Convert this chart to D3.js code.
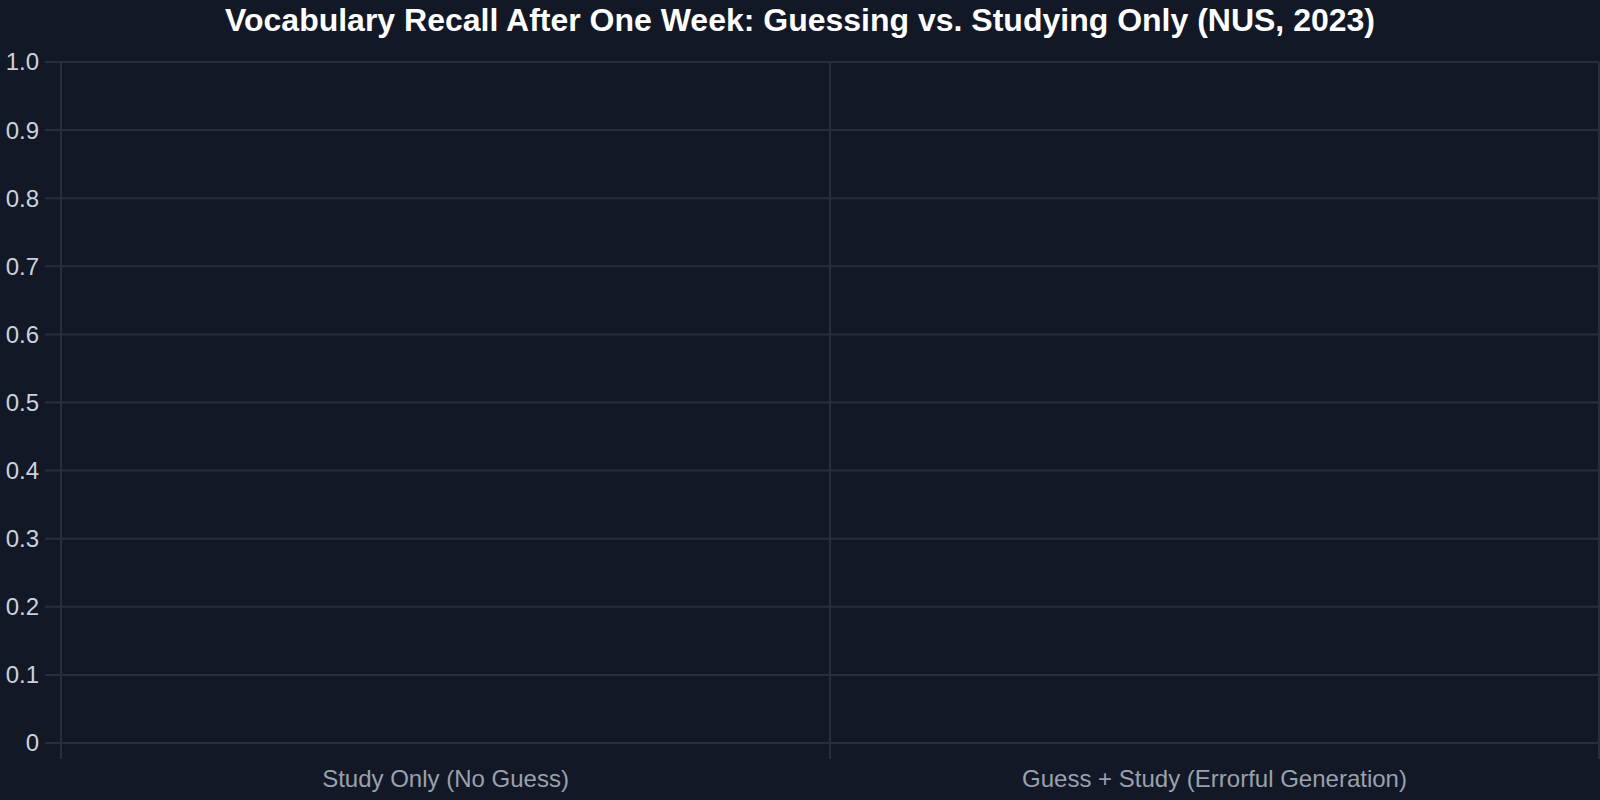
<!DOCTYPE html>
<html>
<head>
<meta charset="utf-8">
<script src="https://cdn.jsdelivr.net/npm/d3@7"></script>
<style>
    html, body { margin: 0; padding: 0; background: #131827; }
    svg { display: block; }
</style>
</head>
<body>
<div id="chart"></div>
<script>
var chart_title = "Vocabulary Recall After One Week: Guessing vs. Studying Only (NUS, 2023)";
var categories = ["Study Only (No Guess)", "Guess + Study (Errorful Generation)"];
var y_ticks = [0, 0.1, 0.2, 0.3, 0.4, 0.5, 0.6, 0.7, 0.8, 0.9, 1.0];

var width = 1600;
var height = 800;
var margin = {top: 62, right: 1, bottom: 57, left: 61};

var svg = d3.select("#chart").append("svg")
            .attr("width", width)
            .attr("height", height);

svg.append("rect")
   .attr("width", width)
   .attr("height", height)
   .attr("fill", "#131827");

var x = d3.scaleBand()
          .domain(categories)
          .range([margin.left, width - margin.right]);

var y = d3.scaleLinear()
          .domain([0, 1])
          .range([height - margin.bottom, margin.top]);

var grid_colour = "#272e3d";

// horizontal grid, with a short tick out to the left
svg.append("g")
   .selectAll("line")
   .data(y_ticks)
   .join("line")
   .attr("x1", margin.left - 16)
   .attr("x2", width - margin.right)
   .attr("y1", function (d) { return y(d); })
   .attr("y2", function (d) { return y(d); })
   .attr("stroke", grid_colour)
   .attr("stroke-width", 2);

// vertical grid on the band edges
var band_edges = categories.map(function (c) { return x(c); });
band_edges.push(x(categories[categories.length - 1]) + x.bandwidth());

svg.append("g")
   .selectAll("line")
   .data(band_edges)
   .join("line")
   .attr("x1", function (d) { return d; })
   .attr("x2", function (d) { return d; })
   .attr("y1", margin.top)
   .attr("y2", height - margin.bottom + 16)
   .attr("stroke", grid_colour)
   .attr("stroke-width", 2);

svg.append("g")
   .selectAll("text")
   .data(y_ticks)
   .join("text")
   .attr("x", margin.left - 22)
   .attr("y", function (d) { return y(d); })
   .attr("dy", "0.35em")
   .attr("text-anchor", "end")
   .attr("font-family", "Liberation Sans, Arial, sans-serif")
   .attr("font-size", 24)
   .attr("fill", "#cbd2dc")
   .text(function (d) { return d === 0 ? "0" : d3.format(".1f")(d); });

svg.append("g")
   .selectAll("text")
   .data(categories)
   .join("text")
   .attr("x", function (d) { return x(d) + x.bandwidth() / 2; })
   .attr("y", 779)
   .attr("dy", "0.35em")
   .attr("text-anchor", "middle")
   .attr("font-family", "Liberation Sans, Arial, sans-serif")
   .attr("font-size", 24)
   .attr("fill", "#9aa1ad")
   .text(function (d) { return d; });

svg.append("text")
   .attr("x", width / 2)
   .attr("y", 20)
   .attr("dy", "0.35em")
   .attr("text-anchor", "middle")
   .attr("font-family", "Liberation Sans, Arial, sans-serif")
   .attr("font-size", 32)
   .attr("font-weight", "bold")
   .attr("fill", "#ffffff")
   .text(chart_title);
</script>
</body>
</html>
